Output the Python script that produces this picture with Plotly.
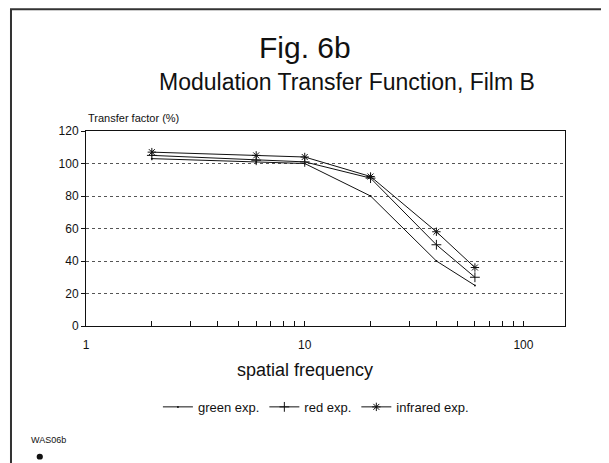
import plotly.graph_objects as go

# spatial frequency (log x axis) and transfer factor (%)
freq = [2, 6, 10, 20, 40, 60]
green_exp = [103, 101, 100, 80, 40, 25]
red_exp = [105, 102, 101, 91, 50, 30]
infrared_exp = [107, 105, 104, 92, 58, 36]

y_ticks = [0, 20, 40, 60, 80, 100, 120]
x_ticks = [1, 10, 100]
x_minor = [2, 3, 4, 5, 6, 7, 8, 9, 20, 30, 40, 50, 60, 70, 80, 90]

FONT = "Liberation Sans"
INK = "#111111"

fig = go.Figure()

fig.add_trace(go.Scatter(
    x=freq, y=green_exp, name="green exp.", mode="lines+markers",
    line=dict(color=INK, width=1),
    marker=dict(symbol="circle", size=2, color=INK),
))
fig.add_trace(go.Scatter(
    x=freq, y=red_exp, name="red exp.", mode="lines+markers",
    line=dict(color=INK, width=1),
    marker=dict(symbol="cross-thin", size=7, line=dict(color=INK, width=1)),
))
fig.add_trace(go.Scatter(
    x=freq, y=infrared_exp, name="infrared exp.", mode="lines+markers",
    line=dict(color=INK, width=1),
    marker=dict(symbol="asterisk", size=7, line=dict(color=INK, width=1)),
))

# page body has an 8px margin, so the figure is 8px smaller than the window
fig.update_layout(
    width=601, height=455,
    paper_bgcolor="white", plot_bgcolor="white",
    margin=dict(l=78, r=44, t=123, b=137),
    font=dict(family=FONT, color=INK, size=11),
    showlegend=True,
    legend=dict(
        orientation="h", x=0.48, xanchor="center", y=-0.415, yanchor="middle",
        font=dict(size=13), itemwidth=30,
        bgcolor="rgba(0,0,0,0)",
    ),
)

fig.update_xaxes(
    type="log", range=[0, 2.19],
    tickvals=x_ticks, ticktext=[str(v) for v in x_ticks],
    ticks="inside", ticklen=5, tickcolor=INK, ticklabelstandoff=8,
    minor=dict(tickvals=x_minor, ticks="inside", ticklen=5, tickcolor=INK, showgrid=False),
    showgrid=False, showline=True, linecolor=INK, linewidth=1, mirror=True,
    tickfont=dict(size=12), zeroline=False,
)
fig.update_yaxes(
    range=[0, 120], tickvals=y_ticks,
    ticks="outside", ticklen=4, tickcolor=INK,
    showgrid=True, gridcolor="#555555", griddash="dot", gridwidth=1,
    showline=True, linecolor=INK, linewidth=1, mirror=True,
    tickfont=dict(size=12), zeroline=False,
)

annots = [
    dict(text="Fig. 6b", x=0.457, y=1.426, font=dict(size=30)),
    dict(text="Modulation Transfer Function, Film B", x=0.545, y=1.251, font=dict(size=23)),
    dict(text="Transfer factor (%)", x=0.0, y=1.067, xanchor="left", font=dict(size=11)),
    dict(text="spatial frequency", x=0.457, y=-0.226, font=dict(size=18)),
    dict(text="WAS06b", x=-0.118, y=-0.585, xanchor="left", font=dict(size=9)),
]
for a in annots:
    a.setdefault("xanchor", "center")
    fig.add_annotation(xref="paper", yref="paper", showarrow=False, yanchor="middle", **a)

# outer frame of the page (runs off the bottom edge)
fig.add_shape(type="rect", xref="paper", yref="paper",
              x0=-0.1566, x1=1.0877, y0=-0.80, y1=1.625,
              line=dict(color="#333333", width=2))
# small blob under the code label
fig.add_shape(type="circle", xref="paper", yref="paper",
              x0=-0.103, x1=-0.090, y0=-0.685, y1=-0.655,
              fillcolor=INK, line=dict(color=INK, width=0))

fig.write_html("out.html")
